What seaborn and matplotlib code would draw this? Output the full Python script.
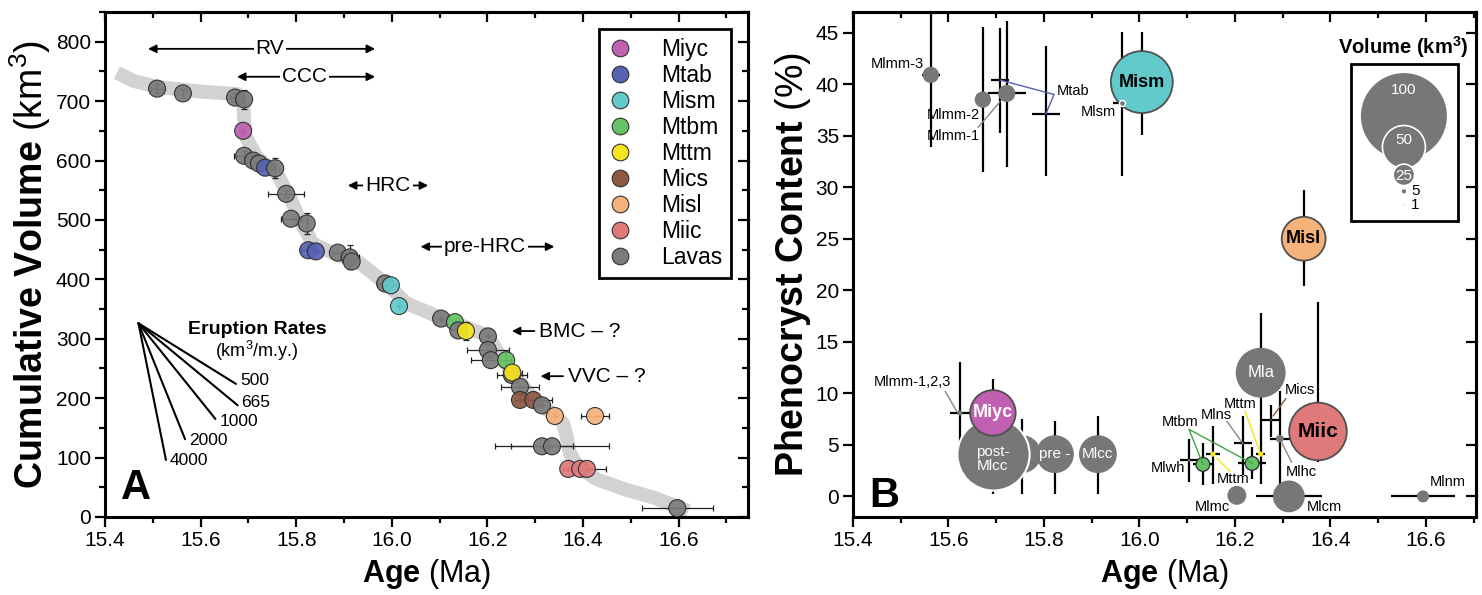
import numpy as np
import pandas as pd
import matplotlib
matplotlib.use("Agg")
import matplotlib.pyplot as plt
from matplotlib.lines import Line2D
from matplotlib.patches import Rectangle
from matplotlib.ticker import MultipleLocator, FormatStrFormatter, NullFormatter
import seaborn as sns

sns.set_theme(style="ticks")
plt.rcParams['font.family'] = ['Liberation Sans', 'DejaVu Sans']
plt.rcParams['mathtext.fontset'] = 'custom'
plt.rcParams['mathtext.rm'] = 'Liberation Sans'
plt.rcParams['mathtext.bf'] = 'Liberation Sans:bold'
plt.rcParams['mathtext.it'] = 'Liberation Sans:italic'
for key in ['text.color', 'axes.labelcolor', 'xtick.color', 'ytick.color', 'axes.edgecolor']:
    plt.rcParams[key] = 'black'

UNIT_COLORS = {'Miyc': '#BF60B2', 'Mtab': '#5662B3', 'Mism': '#62CACA', 'Mtbm': '#66C266',
               'Mttm': '#F6E41E', 'Mics': '#8C5842', 'Misl': '#F5B27A', 'Miic': '#E07A7A',
               'Lavas': '#7B7B7B'}

# ---------------- panel A : cumulative volume ----------------
a_age = [15.509, 15.563, 15.672, 15.691, 15.689, 15.691, 15.710, 15.722, 15.735, 15.756,
         15.779, 15.789, 15.822, 15.825, 15.841, 15.887, 15.912, 15.916, 15.986, 15.998,
         16.015, 16.103, 16.132, 16.139, 16.155, 16.201, 16.201, 16.207, 16.239, 16.251,
         16.252, 16.268, 16.268, 16.296, 16.314, 16.341, 16.425, 16.314, 16.335, 16.369,
         16.394, 16.408, 16.597]
a_vol = [721, 713, 706, 703, 650, 608, 600, 595, 588, 587,
         544, 502, 494, 449, 447, 445, 437, 430, 393, 390,
         355, 334, 328, 314, 313, 304, 281, 264, 264, 239,
         243, 219, 197, 197, 188, 170, 170, 119, 119, 81,
         81, 81, 15]
a_unit = ['Lavas', 'Lavas', 'Lavas', 'Lavas', 'Miyc', 'Lavas', 'Lavas', 'Lavas', 'Mtab', 'Lavas',
          'Lavas', 'Lavas', 'Lavas', 'Mtab', 'Mtab', 'Lavas', 'Lavas', 'Lavas', 'Lavas', 'Mism',
          'Mism', 'Lavas', 'Mtbm', 'Lavas', 'Mttm', 'Lavas', 'Lavas', 'Lavas', 'Mtbm', 'Lavas',
          'Mttm', 'Lavas', 'Mics', 'Mics', 'Lavas', 'Misl', 'Misl', 'Lavas', 'Lavas', 'Miic',
          'Miic', 'Miic', 'Lavas']
a_xerr = [0.012, 0.0, 0.008, 0.0, 0.0, 0.021, 0.0, 0.0, 0.010, 0.0,
          0.037, 0.020, 0.0, 0.015, 0.0, 0.010, 0.020, 0.0, 0.016, 0.010,
          0.0, 0.0, 0.0, 0.0, 0.0, 0.0, 0.044, 0.042, 0.0, 0.031,
          0.020, 0.039, 0.0, 0.038, 0.0, 0.0, 0.030, 0.065, 0.120, 0.010,
          0.0, 0.040, 0.074]
a_yerr = [8, 8, 8, 16, 0, 8, 0, 0, 0, 17,
          6, 0, 18, 0, 0, 0, 20, 0, 0, 0,
          0, 0, 0, 0, 15, 0, 0, 0, 14, 0,
          10, 0, 0, 0, 0, 0, 0, 0, 0, 0,
          0, 0, 0]

band_age = [15.425, 15.46, 15.509, 15.60, 15.676, 15.689, 15.691, 15.693, 15.718, 15.76,
            15.79, 15.808, 15.835, 15.877, 15.934, 15.996, 16.03, 16.10, 16.16, 16.20,
            16.22, 16.25, 16.30, 16.34, 16.358, 16.366, 16.372, 16.39, 16.43, 16.49,
            16.55, 16.62]
band_vol = [748, 734, 724, 716, 712, 700, 670, 642, 605, 578,
            533, 499, 460, 444, 427, 387, 360, 336, 318, 305,
            280, 245, 195, 172, 158, 135, 108, 84, 63, 46,
            32, 10]

rate_values = [500, 665, 1000, 2000, 4000]
rate_end_vol = [224, 188, 165, 131, 96]
rate_label_vol = [229, 193, 161, 128, 95]
rate_origin_age, rate_origin_vol = 15.47, 326

# ---------------- panel B : phenocryst content ----------------
b_name = ['Mlmm-3', 'Mlmm-2', 'Mlmm-1', 'Mtab1', 'Mtab2', 'Mlsm', 'Mism', 'Misl',
          'Mla', 'Miic', 'Mics', 'Mlhc', 'Miyc', 'post-Mlcc', 'Mlcc-b', 'pre', 'Mlcc',
          'Mlmm-1,2,3', 'Mlcm', 'Mlnm', 'Mlmc', 'Mtbm1', 'Mttm1', 'Mlwh', 'Mlns', 'Mtbm2', 'Mttm2']
b_age = [15.563, 15.672, 15.722, 15.708, 15.804, 15.963, 16.005, 16.344,
         16.254, 16.374, 16.275, 16.294, 15.693, 15.693, 15.754, 15.823, 15.913,
         15.624, 16.313, 16.594, 16.204, 16.133, 16.154, 16.104, 16.217, 16.236, 16.254]
b_phen = [40.9, 38.5, 39.1, 40.4, 37.1, 38.2, 40.2, 25.0,
          12.0, 6.3, 7.4, 5.6, 8.1, 4.1, 4.1, 4.1, 4.1,
          8.1, 0.0, 0.0, 0.1, 3.1, 4.1, 3.5, 5.2, 3.2, 4.1]
b_vol = [19, 19, 20, 1, 1, 7, 72, 51,
         58, 67, 2, 9, 53, 84, 44, 44, 44,
         6, 37, 14, 22, 16, 6, 3, 1, 16, 6]
b_unit = ['Lavas', 'Lavas', 'Lavas', 'Mtab', 'Mtab', 'Lavas', 'Mism', 'Misl',
          'Lavas', 'Miic', 'Mics', 'Lavas', 'Miyc', 'Lavas', 'Lavas', 'Lavas', 'Lavas',
          'Lavas', 'Lavas', 'Lavas', 'Lavas', 'Mtbm', 'Mttm', 'Lavas', 'Lavas', 'Mtbm', 'Mttm']
b_xerr = [0.019, 0.017, 0.040, 0.018, 0.029, 0.019, 0.0, 0.0,
          0.0, 0.0, 0.020, 0.021, 0.0, 0.0, 0.0, 0.0, 0.0,
          0.021, 0.069, 0.068, 0.0, 0.020, 0.015, 0.020, 0.019, 0.030, 0.010]
b_ylo = [7.0, 7.0, 7.1, 5.1, 6.0, 7.1, 5.1, 4.6,
         6.0, 3.0, 1.6, 5.6, 4.0, 3.9, 3.9, 3.9, 3.9,
         4.3, 0, 0, 0, 2.0, 2.9, 2.1, 3.1, 1.5, 2.9]
b_yhi = [8.0, 7.0, 7.0, 5.0, 6.6, 6.9, 4.9, 4.7,
         5.8, 12.6, 1.5, 4.6, 3.3, 0.0, 3.4, 3.2, 3.7,
         4.9, 0, 0, 0, 2.1, 2.7, 2.1, 2.6, 1.6, 2.0]

legend_vols = [100, 50, 25, 5, 1]


def marker_area(vol):
    # bubble radius grows linearly with volume (0.43 px per km3)
    return (0.619 * np.asarray(vol, dtype=float)) ** 2


AREA_MAX = float(marker_area(100))


def style_axis(ax, xmin_step, ymaj_step, ymin_step):
    ax.xaxis.set_major_locator(MultipleLocator(0.2))
    ax.xaxis.set_minor_locator(MultipleLocator(xmin_step))
    ax.xaxis.set_major_formatter(FormatStrFormatter('%.1f'))
    ax.yaxis.set_major_locator(MultipleLocator(ymaj_step))
    if ymin_step:
        ax.yaxis.set_minor_locator(MultipleLocator(ymin_step))
    ax.tick_params(which='both', direction='out', width=1.6, color='black', labelsize=15, pad=3)
    ax.tick_params(which='major', length=7)
    ax.tick_params(which='minor', length=4)
    for s in ax.spines.values():
        s.set_visible(True)
        s.set_linewidth(2.2)
        s.set_color('black')
    top = ax.secondary_xaxis('top')
    top.xaxis.set_major_locator(MultipleLocator(0.2))
    top.xaxis.set_minor_locator(MultipleLocator(xmin_step))
    top.xaxis.set_major_formatter(NullFormatter())
    top.tick_params(which='both', direction='in', width=1.6)
    top.tick_params(which='major', length=7)
    top.tick_params(which='minor', length=4)
    top.spines['top'].set_linewidth(2.2)
    right = ax.secondary_yaxis('right')
    right.yaxis.set_major_locator(MultipleLocator(ymaj_step))
    if ymin_step:
        right.yaxis.set_minor_locator(MultipleLocator(ymin_step))
    right.yaxis.set_major_formatter(NullFormatter())
    right.tick_params(which='both', direction='in', width=1.6)
    right.tick_params(which='major', length=7)
    right.tick_params(which='minor', length=4)
    right.spines['right'].set_linewidth(2.2)


def draw_panel_a(ax):
    df = pd.DataFrame({'age': a_age, 'vol': a_vol, 'unit': a_unit, 'xerr': a_xerr, 'yerr': a_yerr})
    ax.plot(band_age, band_vol, color='#D2D2D2', lw=10, solid_capstyle='butt',
            solid_joinstyle='round', zorder=1)
    ax.errorbar(df['age'], df['vol'], xerr=df['xerr'], yerr=df['yerr'], fmt='none',
                ecolor='#222222', elinewidth=0.9, capsize=2.2, capthick=0.9, zorder=2)
    sns.scatterplot(data=df, x='age', y='vol', hue='unit', palette=UNIT_COLORS, s=150,
                    edgecolor='#2a2a2a', linewidth=0.8, alpha=0.92, legend=False, ax=ax, zorder=3)

    # eruption rate fan
    for rate, end_vol, lab_vol in zip(rate_values, rate_end_vol, rate_label_vol):
        end_age = rate_origin_age + (rate_origin_vol - end_vol) / rate
        ax.plot([rate_origin_age, end_age], [rate_origin_vol, end_vol], color='black', lw=1.5)
        ax.text(end_age + 0.008, lab_vol, str(rate), fontsize=12.5, ha='left', va='center')
    ax.text(15.718, 315, 'Eruption Rates', fontsize=14, fontweight='bold', ha='center', va='center')
    ax.text(15.718, 280, '(km$^3$/m.y.)', fontsize=13, ha='center', va='center')

    # eruptive sequence ranges
    spans = [('RV', 15.49, 15.965, 788, 15.745), ('CCC', 15.676, 15.965, 741, 15.818),
             ('HRC', 15.908, 16.076, 558, 15.992), ('pre-HRC', 16.06, 16.34, 455, 16.195)]
    for label, x0, x1, yv, xt in spans:
        ax.annotate('', xy=(x0, yv), xytext=(x1, yv),
                    arrowprops=dict(arrowstyle='<|-|>', color='black', lw=1.3,
                                    mutation_scale=12, shrinkA=0, shrinkB=0))
        ax.text(xt, yv, label, fontsize=15, ha='center', va='center',
                bbox=dict(boxstyle='square,pad=0.1', fc='white', ec='none'))
    for label, x_tip, yv in [('BMC', 16.251, 313), ('VVC', 16.311, 237)]:
        ax.annotate(label + ' \u2013 ?', xy=(x_tip, yv), xytext=(x_tip + 0.057, yv),
                    fontsize=15, va='center', ha='left',
                    arrowprops=dict(arrowstyle='-|>', color='black', lw=1.3,
                                    mutation_scale=12, shrinkA=1, shrinkB=0))

    ax.text(15.465, 48, 'A', fontsize=30, fontweight='bold', ha='center', va='center')

    handles = [Line2D([], [], marker='o', ls='', markersize=12, markerfacecolor=UNIT_COLORS[u],
                      markeredgecolor='#333333', markeredgewidth=0.8) for u in UNIT_COLORS]
    leg = ax.legend(handles, list(UNIT_COLORS), loc='upper right', bbox_to_anchor=(0.974, 0.966),
                    fontsize=16.5, frameon=True, fancybox=False, framealpha=1, edgecolor='black',
                    borderpad=0.4, labelspacing=0.13, handlelength=1.0, handletextpad=1.3,
                    borderaxespad=0)
    leg.get_frame().set_linewidth(2)

    ax.set_xlim(15.4, 16.745)
    ax.set_ylim(0, 850)
    style_axis(ax, 0.1, 100, 50)
    ax.set_xlabel(r'$\mathbf{Age}$ (Ma)', fontsize=22, labelpad=5)
    ax.set_ylabel(r'$\mathbf{Cumulative\ Volume}$ (km$^3$)', fontsize=27, labelpad=2)


def draw_panel_b(ax):
    df = pd.DataFrame({'name': b_name, 'age': b_age, 'phen': b_phen, 'vol': b_vol,
                       'unit': b_unit, 'xerr': b_xerr, 'ylo': b_ylo, 'yhi': b_yhi})
    df['area'] = marker_area(df['vol'])
    ax.errorbar(df['age'], df['phen'], xerr=df['xerr'], yerr=[df['ylo'], df['yhi']], fmt='none',
                ecolor='black', elinewidth=1.6, capsize=0, zorder=2)

    size_kw = dict(size='area', sizes=(0, AREA_MAX), size_norm=(0, AREA_MAX), legend=False, ax=ax)
    gray_big = df[df['name'].isin(['Mlcc-b', 'pre', 'Mlcc', 'Mla', 'Mlcm', 'Mlmc', 'Mlnm'])]
    sns.scatterplot(data=gray_big, x='age', y='phen', color='#777777', edgecolor='none',
                    zorder=3, **size_kw)
    post = df[df['name'] == 'post-Mlcc']
    sns.scatterplot(data=post, x='age', y='phen', color='#777777', edgecolor='white',
                    linewidth=1.5, zorder=3.1, **size_kw)
    named = df[df['name'].isin(['Mism', 'Misl', 'Miyc', 'Miic'])]
    sns.scatterplot(data=named, x='age', y='phen', hue='unit', palette=UNIT_COLORS,
                    edgecolor='#505050', linewidth=1.3, zorder=3.2, **size_kw)
    small_gray = df[df['name'].isin(['Mlmm-3', 'Mlmm-2', 'Mlmm-1', 'Mlmm-1,2,3', 'Mlwh', 'Mlns', 'Mlhc'])]
    sns.scatterplot(data=small_gray, x='age', y='phen', color='#777777', edgecolor='none',
                    zorder=4, **size_kw)
    sns.scatterplot(data=df[df['name'] == 'Mlsm'], x='age', y='phen', color='#777777',
                    edgecolor='white', linewidth=1.0, zorder=4, **size_kw)
    small_col = df[df['unit'].isin(['Mtab', 'Mtbm', 'Mttm', 'Mics'])]
    sns.scatterplot(data=small_col[small_col['unit'] != 'Mtbm'], x='age', y='phen', hue='unit',
                    palette=UNIT_COLORS, edgecolor='none', zorder=4, **size_kw)
    sns.scatterplot(data=small_col[small_col['unit'] == 'Mtbm'], x='age', y='phen', hue='unit',
                    palette=UNIT_COLORS, edgecolor='#333333', linewidth=1.0, zorder=4, **size_kw)

    # labels inside bubbles
    inner = [('Mism', 16.005, 40.2, 'black', 13, 'bold'), ('Misl', 16.344, 25.0, 'black', 13, 'bold'),
             ('Miyc', 15.693, 8.1, 'white', 13, 'bold'), ('Miic', 16.374, 6.3, 'black', 15, 'bold'),
             ('post-\nMlcc', 15.693, 3.6, 'white', 11, 'normal'), ('pre -', 15.823, 4.1, 'white', 11, 'normal'),
             ('Mlcc', 15.913, 4.1, 'white', 11, 'normal'), ('Mla', 16.254, 12.0, 'white', 12, 'normal')]
    for txt, x, y, c, fs, fw in inner:
        ax.text(x, y, txt, color=c, fontsize=fs, fontweight=fw, ha='center', va='center',
                linespacing=1.0, zorder=6)

    # outside labels with leader lines
    outer = [('Mlmm-3', 15.549, 42.0, 'right'), ('Mlmm-2', 15.666, 37.0, 'right'),
             ('Mlmm-1', 15.666, 35.0, 'right'), ('Mtab', 15.827, 39.3, 'left'),
             ('Mlsm', 15.951, 37.3, 'right'), ('Mlmm-1,2,3', 15.524, 11.1, 'center'),
             ('Mtbm', 16.085, 7.2, 'center'), ('Mlns', 16.162, 7.9, 'center'),
             ('Mttm', 16.210, 9.0, 'center'), ('Mttm', 16.196, 1.65, 'center'),
             ('Mics', 16.336, 10.3, 'center'), ('Mlhc', 16.340, 2.4, 'center'),
             ('Mlwh', 16.095, 2.8, 'right'), ('Mlmc', 16.190, -1.0, 'right'),
             ('Mlcm', 16.351, -1.0, 'left'), ('Mlnm', 16.608, 1.4, 'left')]
    for txt, x, y, ha in outer:
        ax.text(x, y, txt, fontsize=10.5, ha=ha, va='center', zorder=6)
    leaders = [((15.662, 35.8), (15.708, 38.3), '#888888'),
               ((15.708, 40.4), (15.821, 39.0), '#5662B3'), ((15.821, 39.0), (15.804, 37.1), '#5662B3'),
               ((15.593, 10.2), (15.618, 8.2), '#888888'),
               ((16.104, 6.5), (16.133, 3.1), '#3BA83B'), ((16.104, 6.5), (16.236, 3.2), '#3BA83B'),
               ((16.183, 7.3), (16.217, 5.1), '#888888'),
               ((16.221, 8.3), (16.254, 4.1), '#F6E41E'), ((16.190, 2.4), (16.162, 3.7), '#F6E41E'),
               ((16.307, 9.5), (16.280, 7.8), '#8C5842'), ((16.319, 3.3), (16.298, 5.2), '#888888')]
    for (x0, y0), (x1, y1), c in leaders:
        ax.plot([x0, x1], [y0, y1], color=c, lw=1.0, zorder=5)

    # volume size legend
    leg_df = pd.DataFrame({'age': [16.554] * 5, 'phen': [36.9, 33.9, 31.2, 29.6, 28.3],
                           'vol': legend_vols})
    leg_df['area'] = marker_area(leg_df['vol'])
    sns.scatterplot(data=leg_df.iloc[:1], x='age', y='phen', color='#777777', edgecolor='none',
                    zorder=7, **size_kw)
    sns.scatterplot(data=leg_df.iloc[1:3], x='age', y='phen', color='#777777', edgecolor='white',
                    linewidth=1.2, zorder=7, **size_kw)
    sns.scatterplot(data=leg_df.iloc[3:], x='age', y='phen', color='#777777', edgecolor='none',
                    zorder=7, **size_kw)
    for v, y, c, dx in [(100, 39.4, 'white', 0), (50, 34.6, 'white', 0), (25, 31.1, 'white', 0),
                        (5, 29.6, 'black', 0.024), (1, 28.3, 'black', 0.024)]:
        ax.text(16.554 + dx, y, str(v), color=c, fontsize=11, ha='center', va='center', zorder=8)
    ax.add_patch(Rectangle((16.443, 26.7), 0.224, 15.3, fill=False, ec='black', lw=2, zorder=6))
    ax.text(16.552, 43.6, 'Volume (km$^\\mathbf{3}$)', fontsize=14.5, fontweight='bold',
            ha='center', va='center')

    ax.text(15.465, 0.0, 'B', fontsize=30, fontweight='bold', ha='center', va='center')

    ax.set_xlim(15.4, 16.705)
    ax.set_ylim(-2, 47)
    style_axis(ax, 0.1, 5, None)
    ax.set_xlabel(r'$\mathbf{Age}$ (Ma)', fontsize=22, labelpad=5)
    ax.set_ylabel(r'$\mathbf{Phenocryst\ Content}$ (%)', fontsize=27, labelpad=2)


fig = plt.figure(figsize=(14.82, 5.95), dpi=100)
axA = fig.add_axes([105 / 1482, 78 / 595, 643 / 1482, 505 / 595])
axB = fig.add_axes([853 / 1482, 78 / 595, 623 / 1482, 505 / 595])
draw_panel_a(axA)
draw_panel_b(axB)
fig.savefig('out.png', dpi=100)
